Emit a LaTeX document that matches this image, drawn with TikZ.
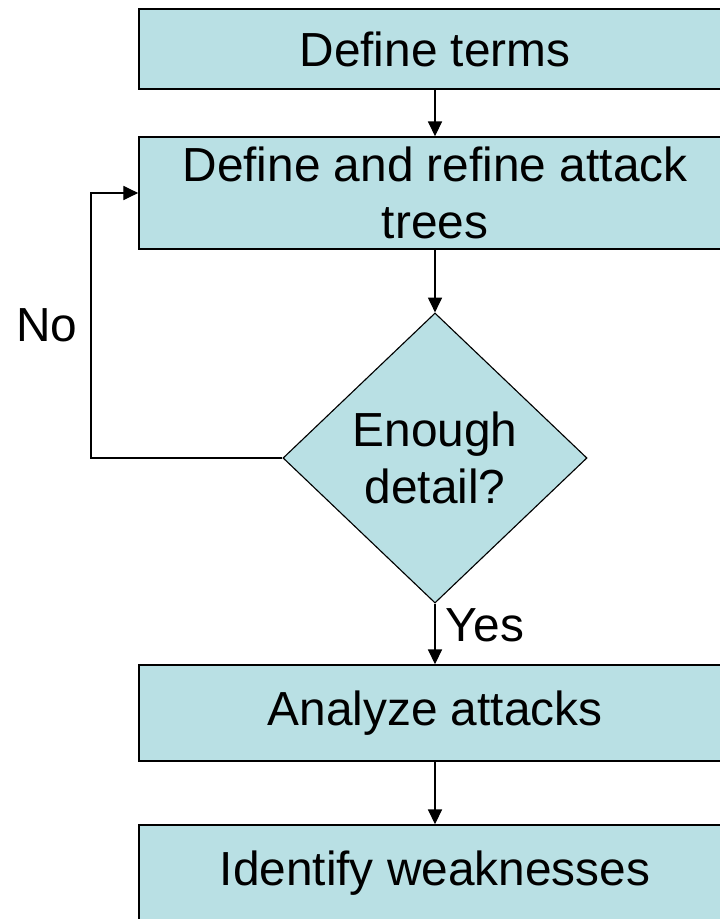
\documentclass[tikz,border=0pt]{standalone}
\usepackage{fontspec}
\setmainfont{Liberation Sans}
\usetikzlibrary{arrows.meta,shapes.geometric}
\definecolor{stepfill}{RGB}{185,224,228}

\begin{document}
\begin{tikzpicture}[
    x=0.025cm, y=-0.025cm,
    >={Triangle[length=10.5pt,width=10pt]},
    stepbox/.style={draw, line width=1.1pt, fill=stepfill, minimum width=14.8cm,
                    align=center, inner sep=0pt},
    decision/.style={draw, diamond, line width=0.8pt, fill=stepfill, minimum width=7.6cm,
                     minimum height=7.25cm, inner sep=0pt, align=center},
    arrow/.style={->, line width=0.8pt},
    every node/.style={font=\fontsize{34}{41}\selectfont},
  ]
  \useasboundingbox (0,0) rectangle (720,919);
  \clip (0,0) rectangle (720,919);

  % ── Steps ──
  \node[stepbox, minimum height=2cm] at (435, 49) (terms) {Define terms};
  \node[stepbox, minimum height=2.8cm] at (435, 193) (refine)
    {Define and refine attack\\trees};
  \node[decision] at (435, 458) (detail) {Enough\\detail?};
  \node[stepbox, minimum height=2.4cm] at (435, 713) (analyze) {Analyze attacks};
  \node[stepbox, minimum height=2.4cm] at (435, 873) (weak) {Identify weaknesses};

  % ── Arrows ──
  \draw[arrow] (terms) -- (refine);
  \draw[arrow] (refine) -- (detail);
  \draw[arrow] (detail) -- node[right, xshift=4pt, yshift=6pt] {Yes} (analyze);
  \draw[arrow] (analyze) -- (weak);

  % No: back to refine
  \coordinate (loop) at (91, 458);
  \draw[arrow] (detail.west) -- (loop) |-
    node[pos=0.25, left, xshift=-6pt] {No} (refine.west);

\end{tikzpicture}
\end{document}
